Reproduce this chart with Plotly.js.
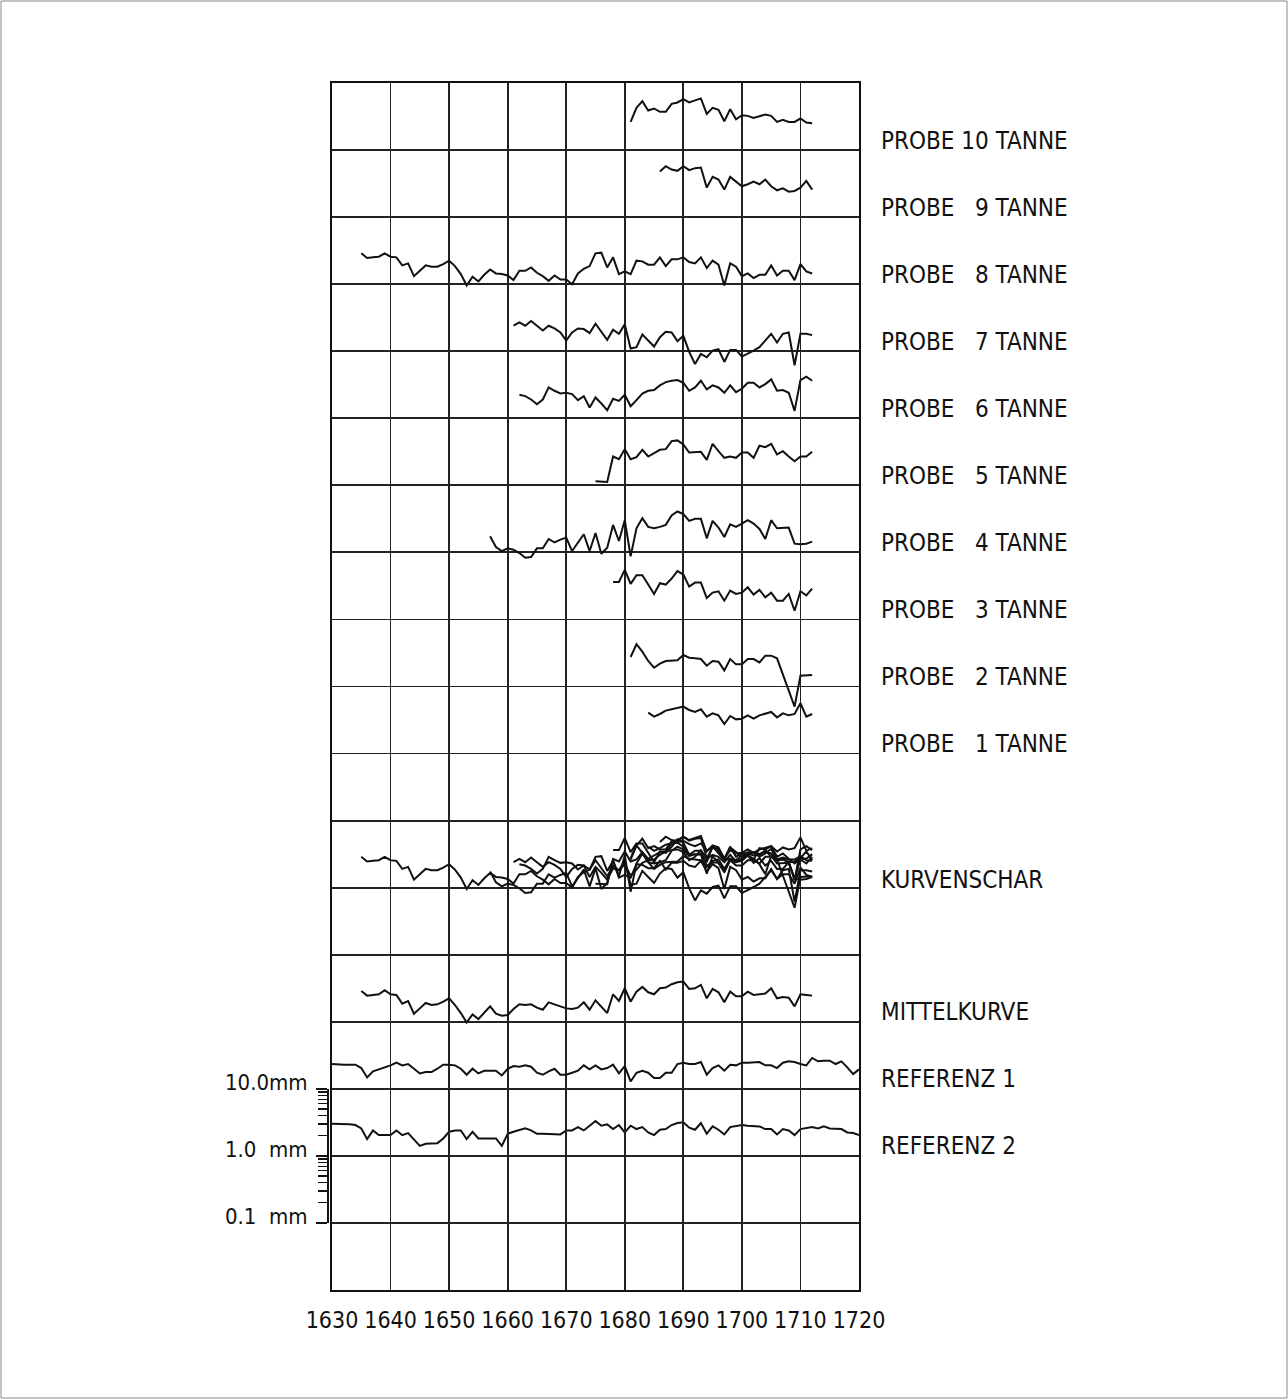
<!DOCTYPE html>
<html><head><meta charset="utf-8">
<script src="https://cdn.plot.ly/plotly-3.0.1.min.js"></script>
<style>html,body{margin:0;padding:0;background:#fff}</style>
</head><body><div id="chart" style="width:1288px;height:1399px"></div>
<script>
// Ring-width curves, log10 units (1 unit = one decade) above each panel's base line
const probeLabels = ["PROBE 10 TANNE","PROBE\u00a0\u00a0\u00a09 TANNE","PROBE\u00a0\u00a0\u00a08 TANNE","PROBE\u00a0\u00a0\u00a07 TANNE","PROBE\u00a0\u00a0\u00a06 TANNE","PROBE\u00a0\u00a0\u00a05 TANNE","PROBE\u00a0\u00a0\u00a04 TANNE","PROBE\u00a0\u00a0\u00a03 TANNE","PROBE\u00a0\u00a0\u00a02 TANNE","PROBE\u00a0\u00a0\u00a01 TANNE"];
const probeStartYears = [1681,1686,1635,1661,1662,1675,1657,1678,1681,1684];

const probe10 = [.42,.63,.73,.59,.62,.57,.57,.69,.71,.76,.71,.74,.77,.54,.63,.60,.43,.61,.46,.52,.51,.48,.50,.53,.51,.42,.45,.42,.42,.47,.41,.40];
const probe9 = [.68,.76,.71,.69,.76,.70,.73,.74,.44,.60,.56,.41,.60,.53,.46,.49,.53,.49,.56,.46,.40,.43,.38,.39,.44,.54,.41];
const probe8 = [.46,.39,.40,.41,.46,.41,.40,.28,.31,.12,
  .20,.28,.26,.26,.30,.35,.27,.15,-.02,.11,
  .04,.14,.22,.16,.15,.13,.06,.20,.20,.25,
  .17,.12,.05,.13,.07,.07,.00,.16,.23,.27,
  .46,.47,.25,.40,.15,.19,.15,.35,.34,.29,
  .29,.40,.27,.37,.37,.40,.33,.31,.40,.24,
  .35,.29,-.02,.31,.26,.12,.16,.09,.14,.14,
  .28,.13,.20,.20,.06,.30,.19,.16];
const probe7 = [.38,.43,.38,.45,.38,.31,.38,.34,.28,.16,
  .28,.34,.33,.27,.41,.29,.17,.32,.26,.40,
  .04,.06,.25,.16,.07,.21,.29,.28,.15,.23,
  -.01,-.19,-.04,-.09,.01,.03,-.16,.02,.02,-.08,
  -.04,.01,.06,.16,.26,.13,.26,.28,-.21,.26,
  .26,.24];
const probe6 = [.35,.33,.28,.21,.28,.46,.41,.37,.38,.36,
  .27,.33,.16,.31,.22,.12,.29,.26,.35,.18,
  .27,.37,.41,.42,.49,.54,.56,.57,.53,.41,
  .46,.56,.43,.49,.46,.38,.49,.39,.44,.53,
  .53,.46,.51,.58,.41,.42,.38,.11,.57,.62,
  .56];
const probe5 = [.06,.05,.05,.43,.39,.54,.39,.42,.53,.43,
  .48,.53,.54,.66,.67,.61,.49,.49,.50,.38,
  .62,.51,.41,.43,.41,.49,.49,.41,.59,.57,
  .62,.46,.51,.43,.36,.43,.43,.50];
const probe4 = [.24,.08,.02,.06,.04,-.01,-.08,-.07,.06,.06,
  .20,.15,.19,.22,.02,.15,.27,.02,.29,-.02,
  .07,.41,.17,.48,-.06,.36,.51,.38,.36,.38,
  .41,.55,.61,.57,.47,.50,.50,.21,.47,.37,
  .23,.42,.38,.43,.48,.43,.35,.20,.48,.36,
  .36,.37,.13,.12,.13,.16];
const probe3 = [.56,.56,.74,.53,.66,.66,.52,.38,.54,.52,
  .61,.72,.67,.49,.55,.55,.32,.40,.42,.28,
  .43,.38,.40,.48,.37,.44,.33,.40,.28,.28,
  .38,.13,.42,.36,.46];
const probe2 = [.44,.63,.52,.38,.28,.34,.38,.39,.39,.47,
  .43,.42,.41,.31,.38,.37,.24,.41,.33,.33,
  .41,.41,.36,.46,.46,.42,.18,-.04,-.30,.16,
  .17,.17];
const probe1 = [.61,.55,.59,.64,.66,.68,.70,.65,.62,.66,
  .55,.60,.57,.44,.56,.51,.52,.57,.52,.57,
  .60,.62,.54,.60,.57,.59,.75,.55,.59];

const mittelStart = 1635;
const mittelkurve = [.46,.39,.40,.41,.47,.41,.40,.27,.31,.12,
  .20,.28,.25,.26,.30,.35,.25,.13,-.01,.11,
  .04,.14,.23,.12,.09,.10,.19,.26,.25,.26,
  .21,.18,.29,.26,.23,.20,.19,.21,.29,.18,
  .32,.22,.13,.41,.31,.50,.30,.45,.52,.44,
  .41,.50,.51,.56,.59,.60,.49,.50,.55,.35,
  .49,.44,.29,.45,.38,.38,.45,.40,.41,.42,
  .50,.35,.37,.36,.23,.41,.40,.39];

const refStart = 1630;
const referenz1 = [.37,.36,.36,.36,.36,.31,.17,.26,.29,.31,
  .35,.39,.35,.37,.30,.23,.25,.25,.30,.36,
  .36,.35,.30,.21,.30,.23,.27,.27,.27,.20,
  .30,.34,.33,.35,.33,.24,.21,.26,.30,.21,
  .21,.24,.27,.35,.29,.35,.29,.31,.36,.23,
  .34,.11,.24,.27,.24,.16,.16,.24,.24,.37,
  .39,.37,.37,.40,.21,.31,.35,.27,.36,.35,
  .39,.39,.39,.40,.35,.35,.31,.39,.41,.40,
  .37,.35,.46,.41,.42,.42,.37,.41,.32,.22,
  .29];
const referenz2 = [.48,.48,.47,.47,.46,.41,.25,.38,.31,.31,
  .31,.38,.31,.34,.24,.15,.18,.18,.19,.26,
  .36,.38,.38,.25,.36,.26,.26,.26,.26,.15,
  .33,.36,.38,.41,.38,.33,.33,.33,.32,.32,
  .38,.38,.43,.38,.45,.52,.45,.47,.40,.46,
  .35,.45,.40,.43,.35,.31,.39,.40,.46,.49,
  .50,.42,.39,.49,.33,.44,.39,.32,.43,.45,
  .46,.45,.45,.44,.40,.40,.32,.40,.38,.31,
  .40,.41,.43,.41,.44,.41,.41,.40,.35,.34,
  .31];

const xTickYears = [1630,1640,1650,1660,1670,1680,1690,1700,1710,1720];
const scaleMajor = [0.1, 1, 10];
const scaleMajorText = ["0.1\u00a0\u00a0mm", "1.0\u00a0\u00a0mm", "10.0mm"];
const scaleMinor = [0.2,0.3,0.4,0.5,0.6,0.7,0.8,0.9,2,3,4,5,6,7,8,9];

// ---- layout (positions) ----
const probes = [probe10, probe9, probe8, probe7, probe6, probe5, probe4, probe3, probe2, probe1];
const probeRows = [17,16,15,14,13,12,11,10,9,8];
const kurvenRow = 6, mittelRow = 4, ref1Row = 3, ref2Row = 2;

const FONT = "'Liberation Sans Narrow', 'DejaVu Sans Condensed', 'Liberation Sans', sans-serif";
const INK = '#111';
const GRID = '#222';
const lineStyle = {color: INK, width: 2};

function yearsFrom(start, n) { const a = []; for (let i = 0; i < n; i++) a.push(start + i); return a; }
function lift(vals, row) { return vals.map(v => v + row); }

const traces = [];
// scale axis host (no data) - placed first so it sits underneath
traces.push({x: [], y: [], xaxis: 'x', yaxis: 'y2', mode: 'lines', hoverinfo: 'skip', showlegend: false});
probes.forEach((vals, i) => {
  traces.push({x: yearsFrom(probeStartYears[i], vals.length), y: lift(vals, probeRows[i]),
    mode: 'lines', line: lineStyle, hoverinfo: 'skip', showlegend: false});
});
probes.forEach((vals, i) => {
  traces.push({x: yearsFrom(probeStartYears[i], vals.length), y: lift(vals, kurvenRow),
    mode: 'lines', line: lineStyle, hoverinfo: 'skip', showlegend: false});
});
traces.push({x: yearsFrom(mittelStart, mittelkurve.length), y: lift(mittelkurve, mittelRow),
  mode: 'lines', line: lineStyle, hoverinfo: 'skip', showlegend: false});
traces.push({x: yearsFrom(refStart, referenz1.length), y: lift(referenz1, ref1Row),
  mode: 'lines', line: lineStyle, hoverinfo: 'skip', showlegend: false});
traces.push({x: yearsFrom(refStart, referenz2.length), y: lift(referenz2, ref2Row),
  mode: 'lines', line: lineStyle, hoverinfo: 'skip', showlegend: false});

const labelFont = {family: FONT, size: 24, color: INK};
const annotations = [];
probeLabels.forEach((t, i) => {
  annotations.push({text: t, xref: 'x', yref: 'y', x: 1720, y: probeRows[i] + 0.14,
    xanchor: 'left', yanchor: 'middle', xshift: 20, showarrow: false, font: labelFont});
});
[["KURVENSCHAR", kurvenRow + 0.11], ["MITTELKURVE", mittelRow + 0.15],
 ["REFERENZ 1", ref1Row + 0.15], ["REFERENZ 2", ref2Row + 0.15]].forEach(([t, y]) => {
  annotations.push({text: t, xref: 'x', yref: 'y', x: 1720, y: y,
    xanchor: 'left', yanchor: 'middle', xshift: 20, showarrow: false, font: labelFont});
});

const W = 1288, H = 1399, ML = 317, MR = 429, MT = 83, MB = 109;
const PW = W - ML - MR, PH = H - MT - MB;

const layout = {
  width: W, height: H,
  margin: {l: ML, r: MR, t: MT, b: MB, pad: 0},
  paper_bgcolor: '#fff', plot_bgcolor: 'rgba(0,0,0,0)',
  showlegend: false,
  xaxis: {
    domain: [15 / PW, 1], range: [1630, 1720], tickvals: xTickYears,
    showgrid: true, gridcolor: GRID, gridwidth: 1.8,
    showline: true, mirror: true, linecolor: INK, linewidth: 2,
    zeroline: false, ticks: '', ticklabelstandoff: 8,
    tickfont: {family: FONT, size: 23, color: INK}, fixedrange: true
  },
  yaxis: {
    range: [0, 18], tick0: 0, dtick: 1,
    showgrid: true, gridcolor: GRID, gridwidth: 1.8,
    showline: true, mirror: true, linecolor: INK, linewidth: 2,
    zeroline: false, ticks: '', showticklabels: false, fixedrange: true
  },
  yaxis2: {
    type: 'log', range: [-1, 1], domain: [1 / 18, 3 / 18],
    anchor: 'free', position: 10 / PW, side: 'left',
    showline: true, linecolor: INK, linewidth: 1.6,
    showgrid: false, zeroline: false,
    ticks: 'outside', ticklen: 11, tickwidth: 1.6, tickcolor: INK,
    tickvals: scaleMajor, ticktext: scaleMajorText,
    ticklabelshift: -7, ticklabelstandoff: 4,
    tickfont: {family: FONT, size: 22, color: INK},
    minor: {tickvals: scaleMinor, ticks: 'outside', ticklen: 9, tickwidth: 1.3, tickcolor: INK, showgrid: false},
    fixedrange: true
  },
  shapes: [{
    type: 'rect', xref: 'paper', yref: 'paper', layer: 'below',
    x0: (-ML + 1) / PW, x1: (W - ML - 1) / PW, y0: (-MB + 1) / PH, y1: 1 + (MT - 1) / PH,
    line: {color: '#888', width: 1}, fillcolor: 'rgba(0,0,0,0)'
  }],
  annotations: annotations
};

Plotly.newPlot('chart', traces, layout, {staticPlot: true, displayModeBar: false});
</script></body></html>
